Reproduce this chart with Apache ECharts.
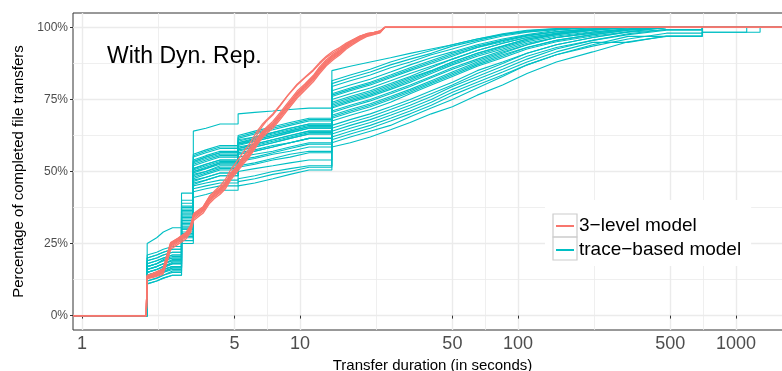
<!DOCTYPE html>
<html><head><meta charset="utf-8">
<script src="https://cdn.jsdelivr.net/npm/echarts@6/dist/echarts.min.js"></script>
<style>html,body{margin:0;padding:0;background:#fff}#c{width:782px;height:371px}</style>
</head><body><div id="c"></div>
<script>
// Axis extent (log10 x with 5% expansion, y -5..105)
const X_MIN = 0.909, X_MAX = 1807;
const xTickLabels = [1, 5, 10, 50, 100, 500, 1000];
const xMinorBreaks = [2.236, 7.071, 22.36, 70.71, 223.6, 707.1];
const yTickLabels = [0, 25, 50, 75, 100];
const yMinorBreaks = [12.5, 37.5, 62.5, 87.5];
const annotation = 'With Dyn. Rep.';
const legendNames = ['3\u2212level model', 'trace\u2212based model'];

// 3-level model ECDFs (seconds, %)
const redX = [1.97,1.99,2.1,2.35,2.45,2.55,2.75,3.0,3.15,3.25,3.45,3.6,3.85,4.05,4.3,4.55,4.8,5.05,5.3,5.55,5.8,6.1,6.4,6.7,7.0,7.5,8.1,8.8,9.7,10.5,11.5,12.3,13.2,14.2,15.2,16.3,17.5,18.8,20.2,21.8,23.3,24.5];
const red1 = [0,13.5,14,15.5,20,24.5,26,28,30.5,34.5,36,37,40.5,42,43.5,45.5,48.5,50.5,52.5,54.5,56,58.5,61,63,64.5,66.5,69.5,73,77,79.5,82.5,85.5,88,90,91.5,93.5,95,96.5,97.5,98,98.5,100];
const red2 = [0,13,13.4,14.8,19,23.6,25.3,27.2,29.6,33.6,35.2,36.2,39.6,41.2,42.7,44.6,47.6,49.7,51.7,53.6,55.2,57.6,60.1,62.2,63.7,65.6,68.6,72.1,76.1,78.7,81.7,84.6,87.2,89.3,90.9,93,94.5,96,97.1,97.7,98.3,100];
const red3 = [0,14,14.6,16.2,21,25.3,26.8,28.8,31.3,35.4,36.8,37.8,41.4,42.8,44.3,46.4,49.4,51.3,53.3,55.4,56.8,59.4,61.9,63.8,65.3,67.4,70.4,73.9,77.9,80.3,83.3,86.3,88.8,90.7,92.1,94,95.5,96.9,97.8,98.2,98.7,100];
const red4 = [0,12.8,13.2,14.3,18.3,23,24.7,26.6,28.9,33,34.6,35.6,39,40.6,42.1,44,47,49.1,51.1,53,54.6,57,59.5,61.6,63.1,65,68,71.5,75.5,78.1,81.1,84,86.7,88.8,90.4,92.5,94.1,95.6,96.8,97.5,98.1,100];
const red5 = [0,13.6,14.2,15.7,20.4,24.9,26.3,28.3,30.8,34.8,36.3,37.3,40.8,42.3,43.8,45.8,48.8,50.8,52.8,54.8,56.3,58.8,61.3,63.3,64.8,66.8,69.8,73.3,77.3,79.8,82.8,85.8,88.3,90.3,91.8,93.8,95.3,96.7,97.6,98.1,98.6,100];
const red6 = [0,13.8,14.4,15.9,20.8,25.2,26.7,28.7,31.2,35.2,36.7,37.8,41.5,43.2,45,47.3,50.5,52.8,55,57.2,59,61.8,64.3,66.3,67.8,70,73,76.5,80.3,82.6,85.3,87.8,90,91.8,93,94.6,95.8,97,97.8,98.3,98.8,100];
const red7 = [0,13.5,14,15.5,20,24.5,26.2,28.2,30.7,34.7,36.2,37.2,40.7,42.2,43.8,45.9,49,51.2,53.5,55.8,57.6,60.4,63.2,65.6,67.4,69.6,72.8,76.4,80,82.4,85,87.4,89.6,91.2,92.6,94.2,95.6,96.8,97.7,98.2,98.7,100];
const red8 = [0,13.2,13.8,15.2,19.6,24.1,25.7,27.6,30.1,34.1,35.6,36.6,40.1,41.6,43.1,45.1,48.1,50.1,52.1,54.1,55.6,58.1,60.6,62.6,64.1,66.1,69.1,72.6,76.6,79.1,82.1,85.1,87.6,89.6,91.1,93.1,94.6,96.2,97.2,97.8,98.4,100];

// trace-based model ECDFs (seconds, %); big jumps happen at tealJumps
const tealX = [1.99,2.2,2.36,2.6,2.86,3.24,3.7,4.3,5.2,6.2,7.5,9,11,14,17,21,26,32,40,50,65,85,110,150,220,320,480,700,1120,1290];
const tealJumps = [1.99, 2.86, 3.24, 5.2, 14, 700, 1120, 1290];
const teal1 = [11,12,13,14,25,41,42,43.5,45,46,47.5,49,50.5,58.5,60,62,64.5,67,70,72.5,76.5,80,84,88,91.5,95,96.9,98.3,98.3,100];
const teal2 = [12,13,14,15,26,43,44,45,46.5,47.5,49,50,51.5,60,62,64,66,69,72,75,79,83,87,90.5,94,96.9,96.9,100];
const teal3 = [14,15,16,17,28,45,46,47,52,53,54.5,56,57,64,66,68,70.5,73,76,79.5,83,86.5,90,93,95.5,97.5,99,100];
const teal4 = [13,14,15.5,16.5,30,47,48,49.5,55,56,57,58.5,60,66,68,70,72.5,75,78,81,85,88,91,94,96.5,98.3,99.3,100];
const teal5 = [15,16,17,18,31,48,49.5,51,56.5,57.5,59,60,61.5,67.5,69.5,71.5,74,77,80,83,86.5,89.5,92.5,95,97,98.5,100];
const teal6 = [16,17,18,19,32,49,50,52,57.5,58.5,60,61.5,63,69,71,73,75.5,78,81,84,87.5,90.5,93,95.5,97.5,99,100];
const teal7 = [12,13,14,15.5,33,50,51,53,58.5,59.5,61,62.5,64,70.5,72.5,74.5,77,79.5,82.5,85.5,88.5,91.5,94,96.5,98,99.3,100];
const teal8 = [17,18,19.5,20.5,34,51,52.5,54,59.5,60.5,62,63.5,65,72,74,76,78.5,81,84,87,90,92.5,95,97,98.5,99.5,100];
const teal9 = [14,15,16.5,18,35,52,53.5,55,58,59.5,61,62.5,64,73.5,75.5,77.5,80,82.5,85,88,91,93.5,96,97.5,99,100];
const teal10 = [18,19,20,21,36,53,54.5,56,59,60.5,62,63.5,65,75,77,79,81.5,84,86.5,89,92,94.5,96.5,98,99.3,100];
const teal11 = [15,16,17,18.5,37,54,55.5,57,60,61.5,63,64.5,66,76.5,78.5,80.5,83,85.5,88,90.5,93,95.5,97,98.5,99.5,100];
const teal12 = [19,20,21,22,38,55,56.5,58,60.5,62,63.5,65,66.5,78,80,82,84.5,87,89.5,91.5,94,96,97.5,99,100];
const teal13 = [20,21,22,23,39,56,57.5,59,61.5,63,64.5,66,67.5,79.5,81.5,83.5,86,88,90.5,92.5,95,97,98.3,99.3,100];
const teal14 = [21,22,23,24,40,53.5,55,56.5,62,63.5,65,66.5,68,80.5,82.5,84.5,87,89,91,93.5,95.5,97.5,98.8,99.5,100];
const teal15 = [25,27,29,30.5,42.5,64,65,66.5,70,70.5,71,71.5,72,85,86.5,88,89.5,91,92.5,94,96,97.5,98.5,99.3,100];
const teal16 = [11,12,13,14,27,46,47,48.5,50,51,52,53,54,62,64,66,68.5,71,74,77.5,81,84.5,88,91.5,94.8,94.8,97,98.3,100];
const teal17 = [13,14,15,16,29,44,45,46,47.5,48.5,50,51,52,61,63,65,67.5,70,73,76.5,80,83.5,87,90.5,93.5,96,98,100];
const teal18 = [16,17,18,19,33.5,50.5,52,53.5,60,61,62.5,64,65.5,74,76,78,80.5,83,86,89,92,94.5,96.5,98,99,100];
const teal19 = [17,18,19,20,35.5,52.5,54,55.5,59.5,61,62.5,64,65.5,77,79,81,83.5,86,88.5,91,93.5,95.5,97.3,98.5,99.5,100];
const teal20 = [14,15,16,17,31.5,48.5,50,51.5,58,59,60.5,62,63.5,71,73,75,77.5,80,83,86,89,92,94.5,96.5,98,99.3,100];
const teal21 = [15,16,17,18,30,46.5,48,49.5,53.5,54.5,56,57,58.5,68.5,70.5,72.5,75,77.5,80.5,83.5,87,90,93,95.5,97.5,99,100];
const teal22 = [18,19,20,21,32.5,50,51.5,53,56,57,58.5,60,61.5,72.5,74.5,76.5,79,81.5,84.5,87.5,90.5,93,95.5,97.5,99,100];
const teal23 = [13,14,15,16.5,28.5,47.5,49,50.5,54,55,56.5,58,59.5,65,67,69,71.5,74,77,80,84,87.5,91,94,96.5,98.5,100];
const teal24 = [16,17,18,19.5,34.5,53.5,55,56.5,61,62,63.5,65,66.5,76,78,80,82.5,85,87.5,90,93,95,97,98.5,99.5,100];
const teal25 = [19,20,21,22,37.5,51,52.5,54,57,58.5,60,61.5,63,73,75,77,79.5,82,85,88,91,93.5,96,97.8,99.3,100];
const teal26 = [14,15,16,17,27.5,45.5,47,48.5,51.5,52.5,54,55,56.5,63,65,67,69.5,72,75,78.5,82,85.5,89,92.5,95.5,97.8,99.3,100];
const teal27 = [17,18,19,20,30.5,49.5,51,52.5,56,57,58.5,60,61.5,69.5,71.5,73.5,76,78.5,81.5,84.5,88,91,94,96.5,98.3,99.5,100];
const teal28 = [20,21,22,23,36.5,55.5,57,58.5,62.5,64,65.5,67,68.5,81.5,83.5,85.5,88,90,92,94,96,97.8,99,99.6,100];

const redCurves = [red1, red2, red3, red4, red5, red6, red7, red8];
const tealCurves = [teal1, teal2, teal3, teal4, teal5, teal6, teal7, teal8, teal9, teal10,
                    teal11, teal12, teal13, teal14, teal15, teal16, teal17, teal18, teal19, teal20,
                    teal21, teal22, teal23, teal24, teal25, teal26, teal27, teal28];

const RED = '#F8766D', TEAL = '#00BFC4';
const FONT = 'Liberation Sans, Arial, Helvetica, sans-serif';

// ECDF padded to the panel edges (-Inf -> 0, +Inf -> 100);
// at a jump the previous level is held up to the jump position.
function ecdf(xs, ys, jumps) {
  const pts = [[X_MIN, 0]];
  let prev = 0;
  for (let i = 0; i < ys.length; i++) {
    if (jumps.indexOf(xs[i]) >= 0) pts.push([xs[i], prev]);
    pts.push([xs[i], ys[i]]);
    prev = ys[i];
  }
  pts.push([X_MAX, 100]);
  return pts;
}

const series = [];
tealCurves.forEach(c => series.push({
  type: 'line', name: legendNames[1], data: ecdf(tealX, c, tealJumps),
  symbol: 'none', silent: true, emphasis: {disabled: true},
  lineStyle: {color: TEAL, width: 1.1}, itemStyle: {color: TEAL}
}));
redCurves.forEach(c => series.push({
  type: 'line', name: legendNames[0], data: ecdf(redX, c, []),
  symbol: 'none', silent: true, emphasis: {disabled: true},
  lineStyle: {color: RED, width: 1.3}, itemStyle: {color: RED}
}));

const chart = echarts.init(document.getElementById('c'), null, {renderer: 'canvas'});
chart.setOption({
  animation: false,
  backgroundColor: '#fff',
  textStyle: {fontFamily: FONT},
  grid: {left: 73, top: 13, right: -10, bottom: 41, show: true, containLabel: false,
         outerBoundsMode: 'none',
         borderColor: '#333333', borderWidth: 1, backgroundColor: 'transparent'},
  xAxis: [{
    type: 'log', logBase: 10, min: X_MIN, max: X_MAX,
    axisLine: {show: false},
    axisTick: {show: true, customValues: xTickLabels, length: 3, lineStyle: {color: '#333333'}},
    axisLabel: {customValues: xTickLabels, fontSize: 18, color: '#4D4D4D', margin: 5,
                fontFamily: FONT, formatter: v => String(Math.round(v))},
    splitLine: {show: true, lineStyle: {color: '#EBEBEB', width: 1.4}},
    minorTick: {show: false}, minorSplitLine: {show: false},
    name: 'Transfer duration (in seconds)', nameLocation: 'middle', nameGap: 24,
    nameTextStyle: {fontSize: 15, color: '#000', fontFamily: FONT}
  }, {
    type: 'log', logBase: 10, min: X_MIN, max: X_MAX,
    axisLine: {show: false},
    axisTick: {show: false, customValues: xMinorBreaks},
    axisLabel: {show: false},
    splitLine: {show: true, lineStyle: {color: '#EBEBEB', width: 0.8}}
  }],
  yAxis: [{
    type: 'value', min: -5, max: 105,
    axisLine: {show: false},
    axisTick: {show: true, customValues: yTickLabels, length: 3, lineStyle: {color: '#333333'}},
    axisLabel: {customValues: yTickLabels, fontSize: 12, color: '#4D4D4D', margin: 5,
                fontFamily: FONT, formatter: v => v + '%'},
    splitLine: {show: true, lineStyle: {color: '#EBEBEB', width: 1.4}},
    name: 'Percentage of completed file transfers', nameLocation: 'middle', nameGap: 46,
    nameTextStyle: {fontSize: 15, color: '#000', fontFamily: FONT}
  }, {
    type: 'value', min: -5, max: 105,
    axisLine: {show: false},
    axisTick: {show: false, customValues: yMinorBreaks},
    axisLabel: {show: false},
    splitLine: {show: true, lineStyle: {color: '#EBEBEB', width: 0.8}}
  }],
  legend: {
    orient: 'vertical', left: 545, top: 200, padding: [14, 10, 4, 11],
    itemGap: 0, itemWidth: 18, itemHeight: 2, icon: 'rect',
    backgroundColor: '#fff', selectedMode: false,
    textStyle: {fontSize: 19, color: '#000', lineHeight: 24, fontFamily: FONT},
    data: legendNames
  },
  graphic: [
    {type: 'text', left: 107, top: 45, z: 10,
     style: {text: annotation, font: '23px ' + FONT, fill: '#000'}},
    {type: 'rect', z: 10, shape: {x: 553, y: 214, width: 24, height: 23},
     style: {fill: 'none', stroke: '#CCCCCC', lineWidth: 1.2}},
    {type: 'rect', z: 10, shape: {x: 553, y: 237, width: 24, height: 23},
     style: {fill: 'none', stroke: '#CCCCCC', lineWidth: 1.2}}
  ],
  series: series
});
</script>
</body></html>
